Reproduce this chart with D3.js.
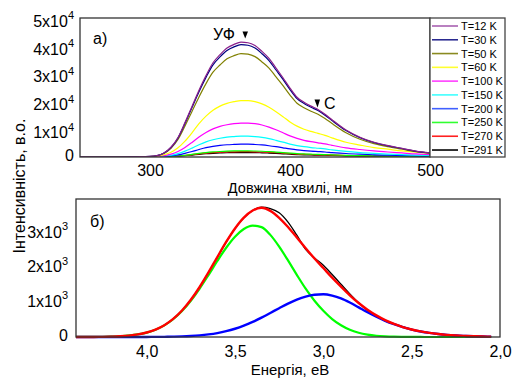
<!DOCTYPE html>
<html><head><meta charset="utf-8">
<script src="https://cdn.jsdelivr.net/npm/d3@7"></script>
<style>body{margin:0;background:#fff}svg{display:block;font-family:"Liberation Sans",Arial,sans-serif}</style>
</head><body><svg id="c" width="514" height="378"></svg>
<script>
// ---- Panel (а): PL spectra vs wavelength ----
const wavelengths = [250,260,270,280,290,300,305,310,315,320,325,330,335,340,345,350,355,360,365,370,375,380,385,390,395,400,405,410,415,420,425,430,440,450,460,470,480,490,500];
const t12  = [0,0,0,0,80,200,500,1450,3500,7000,12400,18200,24000,29300,33900,36800,39200,40500,41300,41100,40100,38000,35500,32000,28500,24800,21500,19700,18300,17100,15400,13400,9700,7100,5300,4100,3100,2100,1500];
const t30  = [0,0,0,0,80,200,490,1420,3420,6850,12100,17800,23500,28650,33150,36000,38300,39600,40400,40200,39200,37150,34700,31300,27900,24250,21000,19250,17900,16700,15050,13100,9500,6950,5200,4000,3050,2050,1450];
const t50  = [0,0,0,0,70,180,450,1300,3150,6300,11150,16400,21600,26400,30500,33100,35300,36450,37200,37000,36100,34200,32000,28800,25650,22300,19350,17700,16450,15400,13850,12050,8750,6400,4800,3700,2800,1900,1350];
const t60  = [0,0,0,0,50,120,300,800,1700,3300,5700,8700,12000,14700,16800,18300,19300,19900,20300,20300,19900,19100,17900,16300,14500,12600,11100,10000,9200,8500,7800,6900,5300,4300,3400,2800,2200,1700,1300];
const t100 = [0,0,0,0,30,70,180,480,1020,2000,3450,5250,7200,8850,10100,11000,11600,12000,12200,12200,12000,11500,10750,9800,8700,7600,6700,6000,5500,5100,4700,4200,3300,2700,2200,1800,1450,1100,850];
const t150 = [0,0,0,0,20,45,110,300,630,1220,2100,3200,4400,5450,6200,6750,7150,7350,7500,7500,7350,7050,6600,6000,5350,4650,4100,3700,3400,3150,2900,2550,2000,1600,1300,1050,850,650,500];
const t200 = [0,0,0,0,10,30,70,180,390,750,1300,1970,2700,3350,3800,4150,4400,4520,4600,4600,4500,4330,4050,3700,3300,2900,2550,2300,2100,1950,1800,1600,1250,1000,800,650,520,400,300];
const t250 = [0,0,0,0,5,15,35,90,190,360,620,950,1300,1600,1820,1980,2100,2170,2200,2200,2150,2070,1940,1770,1580,1390,1220,1100,1000,930,860,760,600,480,380,310,250,190,150];
const t270 = [0,0,0,0,5,13,30,80,165,310,535,820,1120,1380,1570,1710,1810,1870,1900,1900,1860,1790,1680,1530,1370,1200,1050,950,860,800,740,660,520,410,330,270,215,165,130];
const t291 = [0,0,0,0,4,11,25,65,140,260,450,690,940,1160,1320,1440,1530,1580,1600,1600,1560,1500,1410,1290,1150,1010,890,800,730,680,630,550,440,350,280,225,180,140,110];
const seriesLabels = ["T=12 K","T=30 K","T=50 K","T=60 K","T=100 K","T=150 K","T=200 K","T=250 K","T=270 K","T=291 K"];
const seriesValues = [t12,t30,t50,t60,t100,t150,t200,t250,t270,t291];
const seriesColors = ["#8a1f8a","#000080","#808000","#ffff00","#ff00ff","#00ffff","#0000ff","#00ff00","#ff0000","#000000"];
const legendColors = ["#a860b0","#2a2a90","#8a8a20","#ffff30","#ff40ff","#40ffff","#4060ff","#30ff30","#ff2020","#000000"];
const topXTicks = [300,400,500];
const topYTicks = [0,10000,20000,30000,40000,50000];

// ---- Panel (б): decomposition vs energy ----
const energy = [4.40,4.35,4.30,4.25,4.20,4.15,4.10,4.05,4.00,3.95,3.90,3.85,3.80,3.75,3.70,3.65,3.60,3.55,3.50,3.45,3.40,3.35,3.30,3.25,3.20,3.15,3.10,3.05,3.00,2.95,2.90,2.85,2.80,2.75,2.70,2.65,2.60,2.55,2.50,2.45,2.40,2.35,2.30,2.25,2.20,2.15,2.10,2.05];
const measured = [4,7,5,9,14,24,43,77,129,214,341,522,766,1076,1446,1865,2309,2748,3140,3452,3668,3762,3720,3600,3330,2950,2540,2290,2080,1810,1530,1250,990,770,600,470,372,292,222,163,121,86,63,44,31,22,14,10];
const peakUV = [1,1,2,5,11,21,41,74,128,213,338,515,751,1049,1403,1796,2203,2587,2908,3131,3228,3185,2960,2620,2220,1800,1400,1050,760,520,340,210,125,70,36,18,8,4,2,1,0,0,0,0,0,0,0,0];
const peakC = [0,0,0,0,0,0,0,1,2,3,5,10,17,29,47,75,114,168,239,329,437,561,697,835,968,1084,1173,1226,1239,1200,1120,1000,860,720,590,470,370,285,215,160,118,86,62,45,32,22,15,10];
const fitTotal = [1,1,2,5,11,21,41,75,130,216,343,525,768,1078,1450,1871,2317,2755,3147,3460,3665,3746,3657,3455,3188,2884,2573,2276,1999,1720,1460,1210,985,790,626,488,378,289,217,161,118,86,62,45,32,22,15,10];
const botXTicks = [4.0,3.5,3.0,2.5,2.0];
const botYTicks = [0,1000,2000,3000];

const svg = d3.select("#c");
svg.append("rect").attr("width",514).attr("height",378).attr("fill","#fff");
const FONT = 16;

function supLabels(sel, exp, dyX, dy0){
  sel.selectAll(".tick text").each(function(d){
    const t = d3.select(this);
    t.text(null).attr("dy",null);
    if(d===0){ t.attr("dy",dy0).text("0"); return; }
    t.attr("dy",dyX);
    t.append("tspan").text(Math.round(d/Math.pow(10,exp))+"x10");
    t.append("tspan").attr("dy",-7.5).attr("font-size",11).text(exp);
  });
}
function styleAxis(g){
  g.select(".domain").remove();
  g.selectAll(".tick line").remove();
  g.selectAll("text").attr("font-size",FONT).attr("fill","#000").attr("font-family",'"Liberation Sans",Arial,sans-serif');
}

// ---- top panel ----
const T = {l:80,r:430,t:18,b:157};
const xT = d3.scaleLinear().domain([250,500]).range([T.l,T.r]);
const yT = d3.scaleLinear().domain([0,50000]).range([T.b,T.t]);
svg.append("defs").append("clipPath").attr("id","clipT").append("rect").attr("x",T.l).attr("y",T.t-2).attr("width",T.r-T.l).attr("height",T.b-T.t+2);
const lineT = d3.line().x((d,i)=>xT(wavelengths[i])).y(d=>yT(d)).curve(d3.curveMonotoneX);
const gT = svg.append("g").attr("clip-path","url(#clipT)");
for(let k=seriesValues.length-1;k>=0;k--){
  gT.append("path").attr("d",lineT(seriesValues[k])).attr("fill","none")
    .attr("stroke",seriesColors[k]).attr("stroke-width",1.2);
}
const axTX = svg.append("g").attr("transform",`translate(0,${T.b})`)
  .call(d3.axisBottom(xT).tickValues(topXTicks).tickSize(0).tickPadding(8).tickFormat(d3.format("d")));
styleAxis(axTX);
const axTY = svg.append("g").attr("transform",`translate(${T.l},0)`)
  .call(d3.axisLeft(yT).tickValues(topYTicks).tickSize(0).tickPadding(6));
styleAxis(axTY);
supLabels(axTY,4,"0.52em","0.22em");
svg.append("rect").attr("x",T.l).attr("y",T.t).attr("width",T.r-T.l).attr("height",T.b-T.t)
  .attr("fill","none").attr("stroke","#333").attr("stroke-width",1.3);

// legend
const L = {x:430,y:18,w:75,h:139};
svg.append("rect").attr("x",L.x).attr("y",L.y).attr("width",L.w).attr("height",L.h)
  .attr("fill","#fff").attr("stroke","#444").attr("stroke-width",1.3);
seriesLabels.forEach((lab,i)=>{
  const y = 26 + i*13.78;
  svg.append("line").attr("x1",432).attr("x2",458).attr("y1",y).attr("y2",y)
    .attr("stroke",legendColors[i]).attr("stroke-width",1.6);
  svg.append("text").attr("x",461).attr("y",y+4).attr("font-size",11).text(lab);
});

// annotations top
svg.append("text").attr("x",93).attr("y",44).attr("font-size",16).text("а)");
svg.append("text").attr("x",213).attr("y",40).attr("font-size",16).text("УФ");
svg.append("path").attr("d","M242.5,31.5 L248,31.5 L245.2,38.5 Z").attr("fill","#000");
svg.append("path").attr("d","M314.5,99.5 L320,99.5 L317.5,107.5 Z").attr("fill","#000");
svg.append("text").attr("x",324).attr("y",109).attr("font-size",16).text("C");
svg.append("text").attr("x",290).attr("y",193).attr("text-anchor","middle").attr("font-size",14.5).text("Довжина хвилі, нм");

// ---- bottom panel ----
const B = {l:76,r:500,t:199,b:337};
const xB = d3.scaleLinear().domain([4.4,2.0]).range([B.l,B.r]);
const yB = d3.scaleLinear().domain([0,4000]).range([B.b,B.t]);
const lineB = d3.line().x((d,i)=>xB(energy[i])).y(d=>yB(d)).curve(d3.curveMonotoneX);
svg.append("path").attr("d",lineB(measured)).attr("fill","none").attr("stroke","#000").attr("stroke-width",1.3);
svg.append("path").attr("d",lineB(peakUV)).attr("fill","none").attr("stroke","#00ff00").attr("stroke-width",2.2);
svg.append("path").attr("d",lineB(peakC)).attr("fill","none").attr("stroke","#0000ff").attr("stroke-width",2.4);
svg.append("path").attr("d",lineB(fitTotal)).attr("fill","none").attr("stroke","#ff0000").attr("stroke-width",2.4);
const axBX = svg.append("g").attr("transform",`translate(0,${B.b})`)
  .call(d3.axisBottom(xB).tickValues(botXTicks).tickSize(0).tickPadding(9).tickFormat(d=>d3.format(".1f")(d).replace(".",",")));
styleAxis(axBX);
const axBY = svg.append("g").attr("transform",`translate(${B.l},0)`)
  .call(d3.axisLeft(yB).tickValues(botYTicks).tickSize(0).tickPadding(8));
styleAxis(axBY);
supLabels(axBY,3,"0.22em","0.22em");
svg.append("rect").attr("x",B.l).attr("y",B.t).attr("width",B.r-B.l).attr("height",B.b-B.t)
  .attr("fill","none").attr("stroke","#333").attr("stroke-width",1.3);
svg.append("text").attr("x",90).attr("y",227).attr("font-size",16).text("б)");
svg.append("text").attr("x",290).attr("y",375).attr("text-anchor","middle").attr("font-size",15).text("Енергія, еВ");

// y title
svg.append("text").attr("transform","translate(25,186) rotate(-90)").attr("text-anchor","middle")
  .attr("font-size",16).text("Інтенсивність, в.о.");
</script></body></html>
